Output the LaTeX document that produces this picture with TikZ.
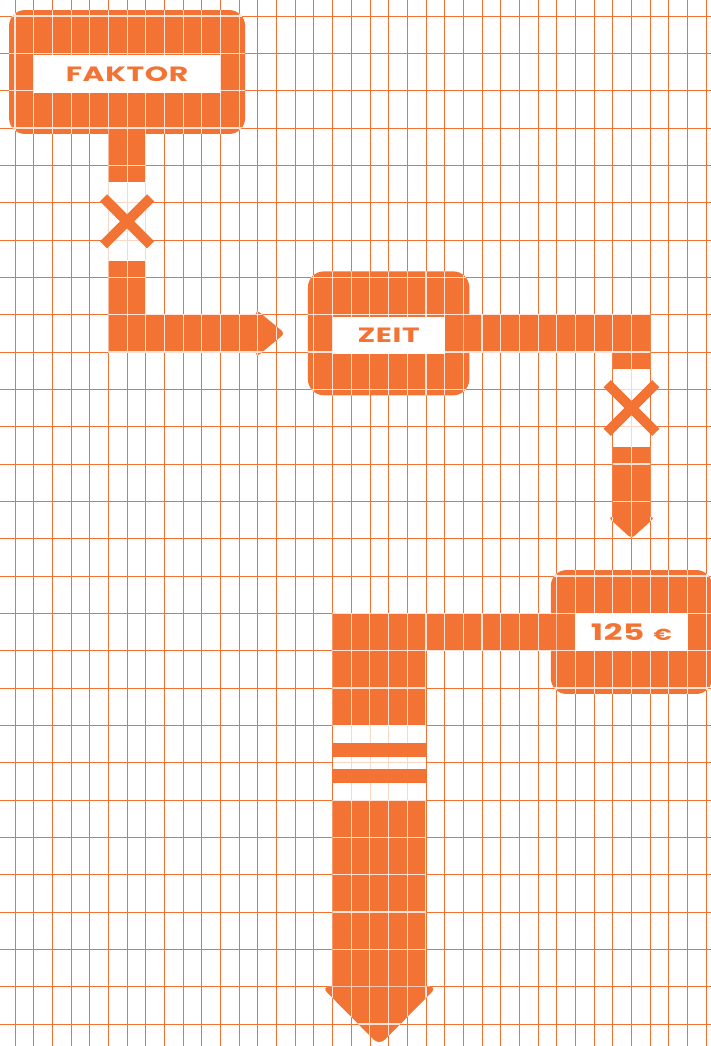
\documentclass[tikz,border=0pt]{standalone}
\usepackage{fontspec}
\newfontfamily\tagfont{Poppins}[FakeStretch=1.44, LetterSpace=3]
\usetikzlibrary{positioning}

% orange tile with the pale cell lines on top of it
\newcommand\tile[2][]{%
  \fill[tileorange,#1] #2;
  \begin{scope}
    \clip[#1] #2;
    \foreach \c in {-1,...,38}{\draw[paleline] (\c,-1) -- (\c,29);}
    \foreach \r in {-1,...,28}{\draw[paleline] (-1,\r) -- (39,\r);}
  \end{scope}}

\begin{document}
\begin{tikzpicture}[x=14.01pt, y=-28pt,
    gridline/.style={tileorange, line width=0.6pt},
    paleline/.style={white!80!tileorange, line width=0.8pt},
    gapfill/.style={fill=white, fill opacity=0.72},
    cross/.style={tileorange, line width=7.5pt},
    tagbox/.style={fill=white, text=tileorange, inner sep=0pt,
      minimum height=28pt, font=\tagfont\bfseries\fontsize{15.5}{15.5}\selectfont}]
    \definecolor{tileorange}{HTML}{F37335}

    \useasboundingbox (-0.8036,-0.4286) rectangle (37.232,27.589);
    \pgfmathsetmacro{\bx}{0.32}   % box margin, columns
    \pgfmathsetmacro{\by}{0.16}   % box margin, rows

    % background cells
    \foreach \c in {0,...,37}{
      \draw[gridline] (\c,-1) -- (\c,28);
    }
    \foreach \r in {0,...,27}{
      \draw[gridline] (-1,\r) -- (38,\r);
    }

    % =================== FAKTOR ===================
    \tile[rounded corners=12pt]{(-\bx,-\by) rectangle (12+\bx,3+\by)}
    \tile{(5,3) rectangle (7,4.45)}
    \tile{(5,6.55) rectangle (7,9)}
    \tile{(7,8) rectangle (13,9)}
    \tile[rounded corners=3pt]{(12.9,7.86) -- (14.45,8.5) -- (12.9,9.14) -- cycle}
    \fill[gapfill] (5,4.45) rectangle (7,6.55);
    \coordinate (cross1) at (6,5.5);
    \draw[cross, shift={(cross1)}] (-1.26,-0.63) -- (1.26,0.63) (-1.26,0.63) -- (1.26,-0.63);

    % =================== ZEIT ===================
    \tile[rounded corners=12pt]{(16-\bx,7-\by) rectangle (24+\bx,10+\by)}
    \tile{(24,8) rectangle (34,9)}
    \tile{(32,9) rectangle (34,9.45)}
    \tile{(32,11.55) rectangle (34,13.5)}
    \tile[rounded corners=3pt]{(31.74,13.42) -- (33,14) -- (34.26,13.42) -- cycle}
    \fill[gapfill] (32,9.45) rectangle (34,11.55);
    \coordinate (cross2) at (33,10.5);
    \draw[cross, shift={(cross2)}] (-1.3,-0.65) -- (1.3,0.65) (-1.3,0.65) -- (1.3,-0.65);

    % =================== 125 EUR ===================
    \tile[rounded corners=12pt]{(29-\bx,15-\by) rectangle (37+\bx,18+\by)}
    \tile{(17,16) rectangle (29,17)}
    \tile{(17,17) rectangle (22,19)}
    \tile{(17,21) rectangle (22,26.1)}
    \tile[rounded corners=6pt]{(16.4,26) -- (19.5,27.57) -- (22.6,26) -- cycle}
    \fill[gapfill] (17,19) rectangle (22,21);
    % equals sign
    \fill[tileorange] (17,19.47) rectangle (22,19.84);
    \fill[tileorange] (17,20.18) rectangle (22,20.55);

    % labels
    \node[tagbox, minimum width=140.1pt] (faktor) at (6,1.55) {FAKTOR};
    \node[tagbox, minimum width=84.06pt] (zeit) at (20,8.55) {ZEIT};
    \node[tagbox, minimum width=84.06pt, font=\tagfont\bfseries\fontsize{17}{17}\selectfont]
      (preis) at (33,16.5) {125\hspace{7pt}{\fontsize{12}{12}\selectfont €}};
\end{tikzpicture}
\end{document}
